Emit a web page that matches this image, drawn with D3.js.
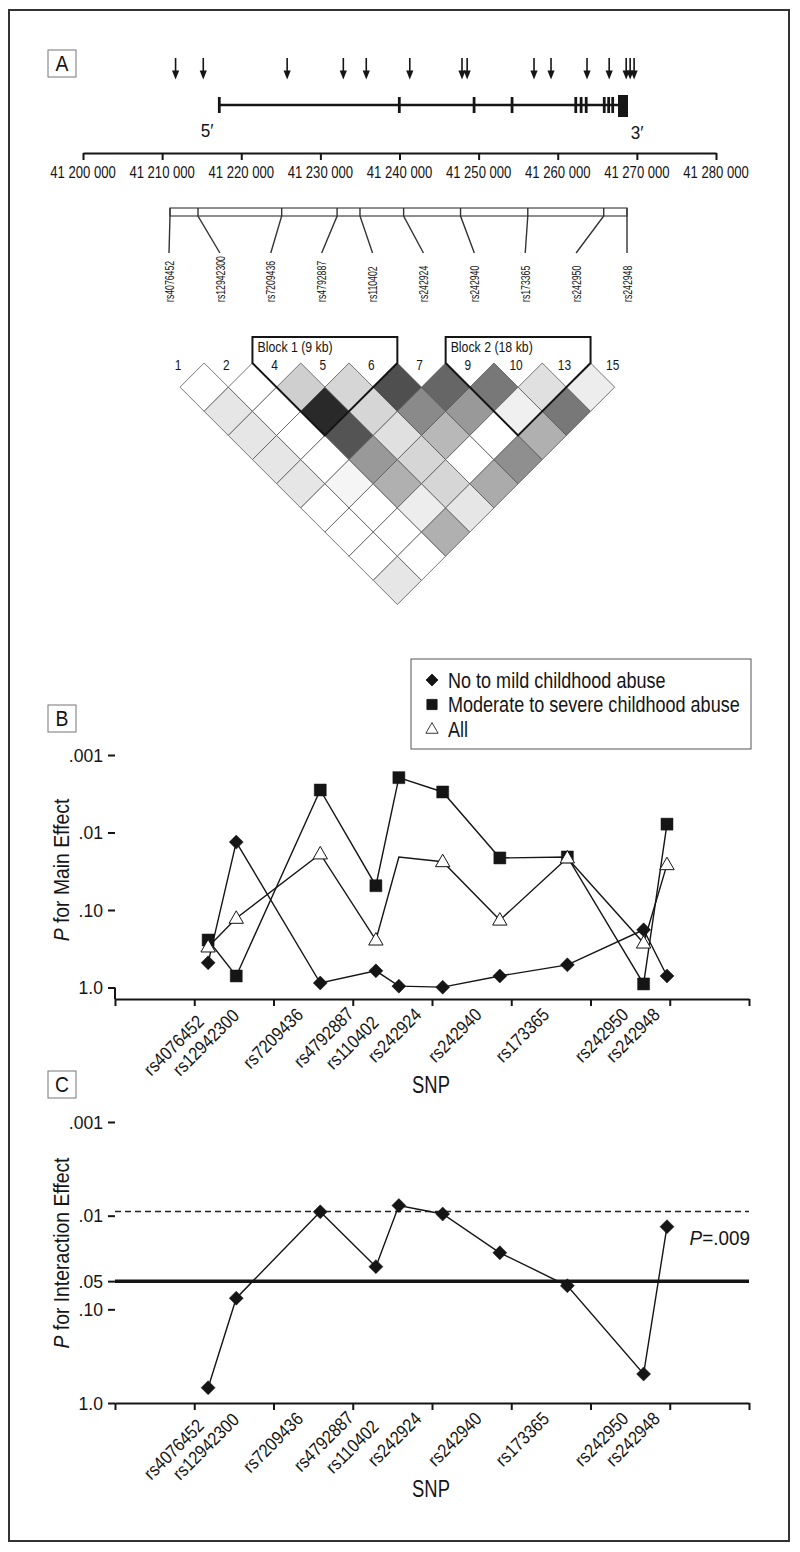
<!DOCTYPE html>
<html><head><meta charset="utf-8">
<script src="https://cdn.jsdelivr.net/npm/d3@7"></script>
<style>body{margin:0;background:#fff}svg{display:block}</style>
</head><body>
<svg id="fig" width="800" height="1552"></svg>
<script>
// ---------------- DATA ----------------
const genomeTicks = [41200000, 41210000, 41220000, 41230000, 41240000, 41250000, 41260000, 41270000, 41280000];
const genomeTickLabels = ["41 200 000", "41 210 000", "41 220 000", "41 230 000", "41 240 000", "41 250 000", "41 260 000", "41 270 000", "41 280 000"];
const arrowPositions = [41211700, 41215200, 41225800, 41232900, 41235800, 41241300, 41247900, 41248550, 41257000, 41259150, 41263700, 41266500, 41268650, 41269150, 41269650];
const geneStart = 41217190, geneEnd = 41268880;
const exonStarts = [41217050, 41239800, 41249250, 41254050, 41262100, 41262780, 41263420, 41265700, 41266260, 41266770, 41267615];
const exonEnds   = [41217400, 41240150, 41249600, 41254400, 41262450, 41263130, 41263770, 41266050, 41266610, 41267120, 41268880];

const snpNames = ["rs4076452", "rs12942300", "rs7209436", "rs4792887", "rs110402", "rs242924", "rs242940", "rs173365", "rs242950", "rs242948"];
const snpPositions = [41211750, 41215300, 41225900, 41232920, 41235820, 41241350, 41248560, 41257080, 41266700, 41269650];

const ldLabels = ["1", "2", "4", "5", "6", "7", "9", "10", "13", "15"];
// LD shading (0 = white, 100 = black); row a lists pairs (a, a+1), (a, a+2), ...
const ldValues = [
  [0, 10, 10, 10, 10, 0, 0, 0, 10],
  [0, 0, 0, 0, 4, 0, 0, 0],
  [19, 84, 67, 40, 31, 7, 31],
  [16, 16, 12, 16, 16, 10],
  [69, 46, 28, 0, 33],
  [60, 40, 0, 44],
  [53, 6, 31],
  [12, 53],
  [7]
];
const blockNames = ["Block 1 (9 kb)", "Block 2 (18 kb)"];
const blockFirst = [2, 6];
const blockLast = [4, 8];

const seriesNames = ["No to mild childhood abuse", "Moderate to severe childhood abuse", "All"];
const pMild   = [0.48, 0.0133, 0.875, 0.61, 0.96, 0.99, 0.71, 0.51, 0.18, 0.71];
const pSevere = [0.244, 0.71, 0.00283, 0.0486, 0.00196, 0.0030, 0.0213, 0.0207, 0.90, 0.0078];
const pAll    = [0.30, 0.128, 0.0189, 0.244, 0.0207, 0.0238, 0.135, 0.0213, 0.267, 0.026];
const allMarkerOmitted = ["rs110402"];   // the original figure shows no triangle here
const pInteraction = [0.687, 0.076, 0.0091, 0.035, 0.0078, 0.0096, 0.0249, 0.056, 0.49, 0.0131];

const yTicksB = [0.001, 0.01, 0.1, 1];
const yTickLabelsB = [".001", ".01", ".10", "1.0"];
const yTicksC = [0.001, 0.01, 0.05, 0.1, 1];
const yTickLabelsC = [".001", ".01", ".05", ".10", "1.0"];
const suggestiveP = 0.009;
const nominalP = 0.05;
const suggestiveLabel = ".009";

// ---------------- DRAWING ----------------
const FONT = '"Liberation Sans", Arial, Helvetica, sans-serif';
const INK = "#151515";
const svg = d3.select("#fig").attr("font-family", FONT);

// text helper: condensed sans via horizontal scale along the text direction
function txt(x, y, parts, o) {
  const t = svg.append("text")
    .attr("transform", `translate(${x},${y})` + (o.rotate ? ` rotate(${o.rotate})` : "") + ` scale(${o.sx || 1},1)`)
    .attr("font-size", o.size).attr("fill", INK).attr("text-anchor", o.anchor || "start");
  if (o.dy) t.attr("dy", o.dy);
  (Array.isArray(parts) ? parts : [{ t: parts }]).forEach(p => {
    const s = t.append("tspan").text(p.t);
    if (p.italic) s.attr("font-style", "italic");
  });
  return t;
}

svg.append("rect").attr("x", 9).attr("y", 10).attr("width", 780).attr("height", 1531)
  .attr("fill", "none").attr("stroke", "#333").attr("stroke-width", 2);

function panelLabel(letter, x, y) {
  svg.append("rect").attr("x", x).attr("y", y).attr("width", 28).attr("height", 27)
    .attr("fill", "#fff").attr("stroke", "#777").attr("stroke-width", 1);
  txt(x + 14, y + 21, letter, { size: 22, sx: 0.88, anchor: "middle" });
}
panelLabel("A", 48, 50);
panelLabel("B", 48, 705);
panelLabel("C", 48, 1071);

// ---- Panel A: gene structure ----
const xA = d3.scaleLinear().domain([genomeTicks[0], genomeTicks[genomeTicks.length - 1]]).range([83, 716]);
const axisAY = 153;
const axA = svg.append("g").attr("transform", `translate(0,${axisAY})`)
  .call(d3.axisBottom(xA).tickValues(genomeTicks).tickFormat("").tickSize(7).tickSizeOuter(0));
axA.select(".domain").attr("stroke", INK).attr("stroke-width", 2);
axA.selectAll(".tick line").attr("stroke", INK).attr("stroke-width", 2);
genomeTicks.forEach((t, i) => txt(xA(t), axisAY + 25, genomeTickLabels[i], { size: 17, sx: 0.77, anchor: "middle" }));

const geneY = 105;
svg.append("line").attr("x1", xA(geneStart)).attr("x2", xA(geneEnd)).attr("y1", geneY).attr("y2", geneY)
  .attr("stroke", INK).attr("stroke-width", 2.6);
exonStarts.forEach((s, i) => {
  const w = Math.max(xA(exonEnds[i]) - xA(s), 2.6);
  const big = w > 6;
  svg.append("rect").attr("x", xA(s)).attr("width", w)
    .attr("y", big ? 95 : 97).attr("height", big ? 22 : 16).attr("fill", INK);
});
txt(xA(geneStart) - 12, 137, "5\u2032", { size: 19, sx: 0.9, anchor: "middle" });
txt(xA(geneEnd) + 9, 139, "3\u2032", { size: 19, sx: 0.9, anchor: "middle" });

arrowPositions.forEach(p => {
  const x = xA(p);
  svg.append("line").attr("x1", x).attr("x2", x).attr("y1", 58).attr("y2", 72)
    .attr("stroke", INK).attr("stroke-width", 1.6);
  svg.append("path").attr("d", `M${x - 3.6},70.5L${x + 3.6},70.5L${x},79.5Z`).attr("fill", INK);
});

// SNP bar and leader lines
const xBar = d3.scaleLinear().domain([snpPositions[0], snpPositions[snpPositions.length - 1]]).range([170, 627]);
const xLab = d3.scalePoint().domain(snpNames).range([169, 627]);
svg.append("rect").attr("x", xBar.range()[0]).attr("y", 208).attr("width", xBar.range()[1] - xBar.range()[0]).attr("height", 8)
  .attr("fill", "none").attr("stroke", "#444").attr("stroke-width", 1.2);
snpNames.forEach((n, i) => {
  const bx = xBar(snpPositions[i]);
  svg.append("path").attr("d", `M${bx},208V216L${xLab(n)},253`).attr("fill", "none")
    .attr("stroke", "#333").attr("stroke-width", 1.4);
  txt(xLab(n), 302, n, { size: 12.8, sx: 0.68, rotate: -90, dy: "0.36em" });
});

// LD plot
const ldX = d3.scaleLinear().domain([0, ldLabels.length - 1]).range([180, 614.7]);
const hh = (ldX(1) - ldX(0)) / 2;
const ldTop = 363;
const grey = d3.scaleLinear().domain([0, 100]).range(["#ffffff", "#000000"]);
const cells = [];
ldValues.forEach((row, a) => row.forEach((v, k) => cells.push({ a, b: a + k + 1, v })));
svg.append("g").selectAll("path").data(cells).join("path")
  .attr("d", d => {
    const cx = (ldX(d.a) + ldX(d.b)) / 2, cy = ldTop + (d.b - d.a) * hh;
    return `M${cx},${cy - hh}L${cx + hh},${cy}L${cx},${cy + hh}L${cx - hh},${cy}Z`;
  })
  .attr("fill", d => grey(d.v)).attr("stroke", "#555").attr("stroke-width", 0.8);
ldLabels.forEach((l, k) => txt(ldX(k) - 2, 370, l, { size: 14, sx: 0.85, anchor: "middle" }));
blockNames.forEach((name, i) => {
  const l = ldX(blockFirst[i]) - hh, r = ldX(blockLast[i]) + hh;
  const cx = (ldX(blockFirst[i]) + ldX(blockLast[i])) / 2;
  const by = ldTop + (blockLast[i] - blockFirst[i] + 1) * hh;
  svg.append("path").attr("d", `M${cx},${by}L${l},${ldTop}V337H${r}V${ldTop}Z`)
    .attr("fill", "none").attr("stroke", INK).attr("stroke-width", 2);
  txt(l + 5, 352, name, { size: 14, sx: 0.88 });
});

// ---- helpers for B and C ----
function markerPath(type) {
  if (type === "diamond") return "M0,-7L7,0L0,7L-7,0Z";
  if (type === "square") return "M-6,-6H6V6H-6Z";
  return "M0,-7.5L7.2,5L-7.2,5Z";
}
const xP = d3.scaleLinear().domain([genomeTicks[0], genomeTicks[genomeTicks.length - 1]]).range([115, 749]);
// hand placement of the slanted SNP names (relative to each SNP / to the axis)
const snpLabelDx = [-3, 4, -16, -21, -19, -20, -17, -17, -14, -6];
const snpLabelDy = [24, 18, 17, 16, 25, 17, 17, 17, 17, 17];

function drawAxes(yScale, ticks, tickLabels, axisY, titleParts, centerY, snpTitleY) {
  const gx = svg.append("g").attr("transform", `translate(0,${axisY})`)
    .call(d3.axisBottom(xP).tickValues(genomeTicks).tickFormat("").tickSize(7).tickSizeOuter(0));
  gx.select(".domain").attr("stroke", INK).attr("stroke-width", 2);
  gx.selectAll(".tick line").attr("stroke", INK).attr("stroke-width", 2);
  svg.append("line").attr("x1", 115).attr("x2", 115).attr("y1", yScale(ticks[ticks.length - 1])).attr("y2", axisY)
    .attr("stroke", INK).attr("stroke-width", 2);
  const gy = svg.append("g").attr("transform", "translate(115,0)")
    .call(d3.axisLeft(yScale).tickValues(ticks).tickFormat("").tickSize(7));
  gy.select(".domain").remove();
  gy.selectAll(".tick line").attr("stroke", INK).attr("stroke-width", 2);
  ticks.forEach((t, i) => txt(103, yScale(t) + 6.6, tickLabels[i], { size: 18.5, sx: 0.95, anchor: "end" }));
  snpNames.forEach((n, i) => {
    txt(xP(snpPositions[i]) + snpLabelDx[i], axisY + snpLabelDy[i], n, { size: 18.5, sx: 0.87, rotate: -45, anchor: "end" });
  });
  txt(431, snpTitleY, "SNP", { size: 23, sx: 0.8, anchor: "middle" });
  txt(69, centerY, titleParts, { size: 21.5, sx: 0.9, rotate: -90, anchor: "middle" });
}

function drawSeries(yScale, values) {
  const line = d3.line().x((d, i) => xP(snpPositions[i])).y(d => yScale(d));
  svg.append("path").attr("d", line(values)).attr("fill", "none").attr("stroke", INK).attr("stroke-width", 1.4);
}
function drawMarkers(yScale, values, type, omitted) {
  const pts = values.map((v, i) => ({ v, i })).filter(d => !(omitted || []).includes(snpNames[d.i]));
  svg.append("g").selectAll("path").data(pts).join("path")
    .attr("transform", d => `translate(${xP(snpPositions[d.i])},${yScale(d.v)})`)
    .attr("d", markerPath(type))
    .attr("fill", type === "triangle" ? "#fff" : INK)
    .attr("stroke", INK).attr("stroke-width", type === "triangle" ? 1 : 0.5);
}

// ---- Panel B ----
const yB = d3.scaleLog().domain([1, 0.001]).range([987.5, 755]);
drawAxes(yB, yTicksB, yTickLabelsB, 999, [{ t: "P", italic: true }, { t: " for Main Effect" }], 870, 1093);
drawSeries(yB, pAll);
drawSeries(yB, pSevere);
drawSeries(yB, pMild);
drawMarkers(yB, pSevere, "square");
drawMarkers(yB, pAll, "triangle", allMarkerOmitted);
drawMarkers(yB, pMild, "diamond");

// legend
const legX = 411, legY = 659;
svg.append("rect").attr("x", legX).attr("y", legY).attr("width", 340).attr("height", 90)
  .attr("fill", "#fff").attr("stroke", "#555").attr("stroke-width", 1);
const legTypes = ["diamond", "square", "triangle"];
seriesNames.forEach((n, i) => {
  const cy = legY + 21 + i * 24.5;
  svg.append("path").attr("transform", `translate(${legX + 21},${cy}) scale(0.85)`)
    .attr("d", markerPath(legTypes[i])).attr("fill", legTypes[i] === "triangle" ? "#fff" : INK)
    .attr("stroke", INK).attr("stroke-width", 1);
  txt(legX + 37, cy + 7.5, n, { size: 22, sx: 0.82 });
});

// ---- Panel C ----
const yC = d3.scaleLog().domain([1, 0.001]).range([1403, 1122]);
svg.append("line").attr("x1", 115).attr("x2", 749).attr("y1", yC(nominalP)).attr("y2", yC(nominalP))
  .attr("stroke", INK).attr("stroke-width", 3.5);
svg.append("line").attr("x1", 115).attr("x2", 749).attr("y1", yC(suggestiveP)).attr("y2", yC(suggestiveP))
  .attr("stroke", "#222").attr("stroke-width", 1.5).attr("stroke-dasharray", "6,4");
drawAxes(yC, yTicksC, yTickLabelsC, 1403, [{ t: "P", italic: true }, { t: " for Interaction Effect" }], 1253, 1497);
drawSeries(yC, pInteraction);
drawMarkers(yC, pInteraction, "diamond");
txt(750, yC(suggestiveP) + 34, [{ t: "P", italic: true }, { t: "=" + suggestiveLabel }], { size: 21, sx: 0.9, anchor: "end" });
</script>
</body></html>
